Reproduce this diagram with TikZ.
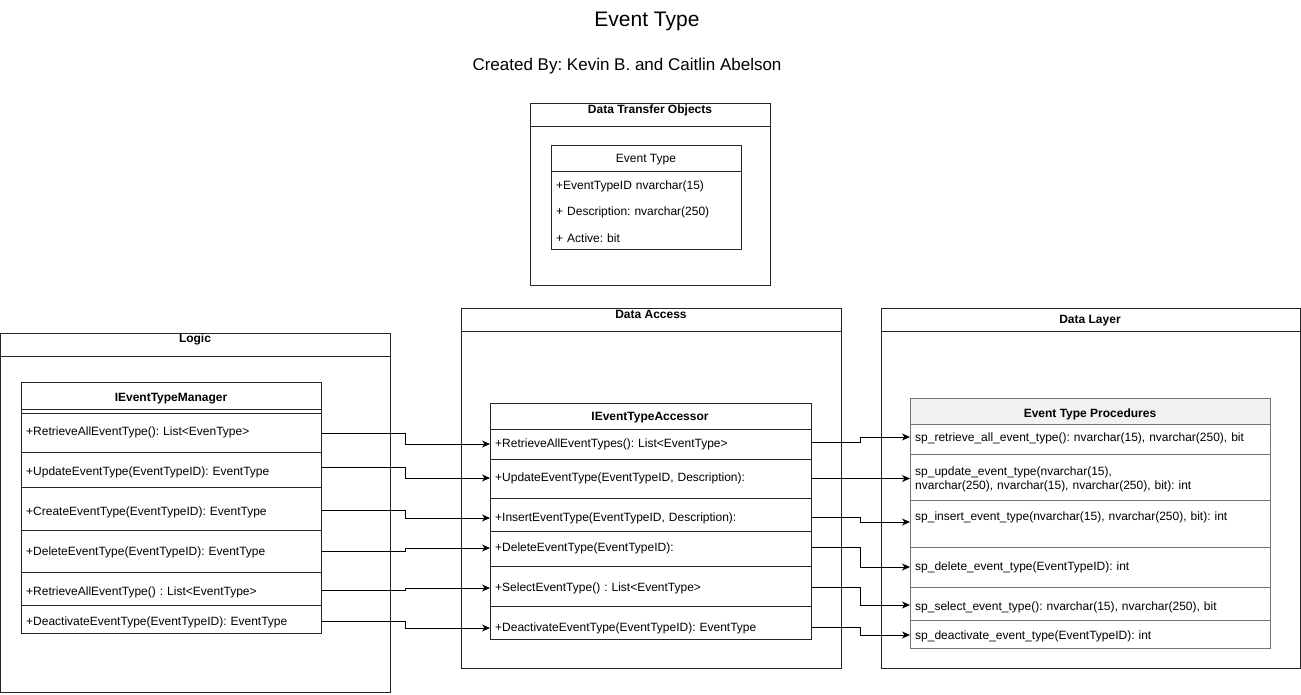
\documentclass[tikz,border=0pt]{standalone}
\usepackage{fontspec}
\setmainfont{Liberation Sans}
\usetikzlibrary{arrows.meta}
\frenchspacing
\begin{document}
\frenchspacing
\begin{tikzpicture}[x=1pt,y=-1pt,
  frame/.style={draw=black!85, line width=1pt},
  pframe/.style={draw=black!55, line width=1pt},
  conn/.style={draw=black, line width=1pt, -{Stealth[length=8pt,width=7pt,inset=2.5pt]}},
  row/.style={anchor=west, inner xsep=5pt, inner ysep=0pt, align=left, yshift=-1pt, font=\fontsize{12}{13.5}\selectfont},
  hdr/.style={font=\bfseries\fontsize{12}{14}\selectfont, inner sep=0pt, yshift=-1pt},
  plain/.style={font=\fontsize{12}{14}\selectfont, inner sep=0pt, yshift=-1.5pt}]
\useasboundingbox (0,0) rectangle (1301,694);

% titles
\node[font=\fontsize{21}{24}\selectfont, inner sep=0pt] (title) at (647,21) {Event Type};
\node[font=\fontsize{17}{20}\selectfont, inner sep=0pt] (sub) at (627,66.5) {Created By: Kevin B. and Caitlin Abelson};

% Data Transfer Objects
\draw[frame] (530,103) rectangle (770,285);
\draw[frame] (530,126) -- (770,126);
\node[hdr] (dtoh) at (650,109) {Data Transfer Objects};
\draw[frame] (551,145) rectangle (741,249);
\draw[frame] (551,171) -- (741,171);
\node[plain] (eth) at (646,158) {Event Type};
\node[row, text width=180pt] (e1) at (551,185) {+EventTypeID nvarchar(15)};
\node[row, text width=180pt] (e2) at (551,211) {+ Description: nvarchar(250)};
\node[row, text width=180pt] (e3) at (551,237) {+ Active: bit};

% Logic
\draw[frame] (0.5,333) rectangle (390,692);
\draw[frame] (0.5,356) -- (390,356);
\node[hdr] (logich) at (195,338) {Logic};
\draw[frame] (21,382) rectangle (321,633);
\draw[frame] (21,409) -- (321,409);
\draw[frame] (21,413) -- (321,413);
\foreach \yy in {452,487,530,572,605} \draw[frame] (21,\yy) -- (321,\yy);
\node[hdr] (mh) at (171,398) {IEventTypeManager};
\node[row, text width=290pt] (m1) at (21,431) {+RetrieveAllEventType(): List<EvenType>};
\node[row, text width=290pt] (m2) at (21,471) {+UpdateEventType(EventTypeID): EventType};
\node[row, text width=290pt] (m3) at (21,511) {+CreateEventType(EventTypeID): EventType};
\node[row, text width=290pt] (m4) at (21,551) {+DeleteEventType(EventTypeID): EventType};
\node[row, text width=290pt] (m5) at (21,591) {+RetrieveAllEventType() : List<EventType>};
\node[row, text width=290pt] (m6) at (21,621) {+DeactivateEventType(EventTypeID): EventType};

% Data Access
\draw[frame] (461,308) rectangle (841,668);
\draw[frame] (461,331) -- (841,331);
\node[hdr] (dah) at (651,313) {Data Access};
\draw[frame] (490,403) rectangle (811,639);
\foreach \yy in {429,459,498,531,566,606} \draw[frame] (490,\yy) -- (811,\yy);
\node[hdr] (ah) at (650,417) {IEventTypeAccessor};
\node[row, text width=311pt] (a1) at (490,443) {+RetrieveAllEventTypes(): List<EventType>};
\node[row, text width=311pt] (a2) at (490,477) {+UpdateEventType(EventTypeID, Description):};
\node[row, text width=311pt] (a3) at (490,517) {+InsertEventType(EventTypeID, Description):};
\node[row, text width=311pt] (a4) at (490,547) {+DeleteEventType(EventTypeID):};
\node[row, text width=311pt] (a5) at (490,587) {+SelectEventType() : List<EventType>};
\node[row, text width=311pt] (a6) at (490,627) {+DeactivateEventType(EventTypeID): EventType};

% Data Layer
\draw[frame] (881,308) rectangle (1300,668);
\draw[frame] (881,331) -- (1300,331);
\node[hdr] (dlh) at (1090,320) {Data Layer};
\fill[black!5] (910,398) rectangle (1270,424);
\draw[pframe] (910,398) rectangle (1270,648);
\foreach \yy in {424,454,500,547,587,620} \draw[pframe] (910,\yy) -- (1270,\yy);
\node[hdr] (ph) at (1090,413) {Event Type Procedures};
\node[row, text width=350pt] (p1) at (910,437) {sp\_retrieve\_all\_event\_type(): nvarchar(15), nvarchar(250), bit};
\node[row, text width=350pt] (p2) at (910,478.5) {sp\_update\_event\_type(nvarchar(15),\\nvarchar(250), nvarchar(15), nvarchar(250), bit): int};
\node[row, text width=350pt] (p3) at (910,516) {sp\_insert\_event\_type(nvarchar(15), nvarchar(250), bit): int};
\node[row, text width=350pt] (p4) at (910,566) {sp\_delete\_event\_type(EventTypeID): int};
\node[row, text width=350pt] (p5) at (910,606) {sp\_select\_event\_type(): nvarchar(15), nvarchar(250), bit};
\node[row, text width=350pt] (p6) at (910,635) {sp\_deactivate\_event\_type(EventTypeID): int};

% connectors Logic -> Data Access
\draw[conn] ([yshift=-1pt]m1.east) -- ++(84,0) |- (a1.west);
\draw[conn] ([yshift=5pt]m2.east) -- ++(84,0) |- (a2.west);
\draw[conn] ([yshift=2pt]m3.east) -- ++(84,0) |- (a3.west);
\draw[conn] ([yshift=1pt]m4.east) -- ++(84,0) |- (a4.west);
\draw[conn] ([yshift=2pt]m5.east) -- ++(84,0) |- (a5.west);
\draw[conn] ([yshift=1pt]m6.east) -- ++(84,0) |- (a6.west);

% connectors Data Access -> Data Layer
\draw[conn] ([yshift=2pt]a1.east) -- ++(49,0) |- ([yshift=1pt]p1.west);
\draw[conn] (a2.east) -- ++(49,0) |- ([yshift=1pt]p2.west);
\draw[conn] ([yshift=1pt]a3.east) -- ++(49,0) |- ([yshift=-5pt]p3.west);
\draw[conn] ([yshift=1pt]a4.east) -- ++(49,0) |- (p4.west);
\draw[conn] ([yshift=1pt]a5.east) -- ++(49,0) |- ([yshift=2pt]p5.west);
\draw[conn] ([yshift=1pt]a6.east) -- ++(49,0) |- ([yshift=1pt]p6.west);
\end{tikzpicture}
\end{document}
